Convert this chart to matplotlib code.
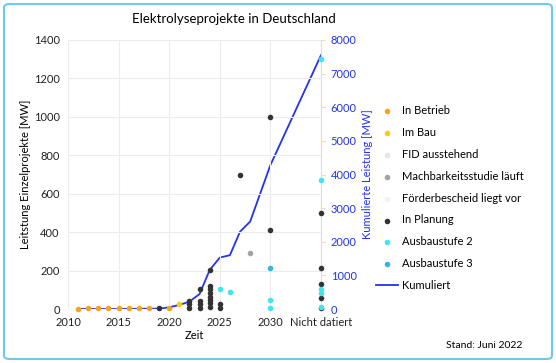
import numpy as np
import matplotlib
matplotlib.use('Agg')
import matplotlib.pyplot as plt
from matplotlib.patches import FancyBboxPatch
from matplotlib.lines import Line2D

plt.rcParams['font.family'] = ['Lato', 'DejaVu Sans']

# 2035 stands for "Nicht datiert"
betrieb_x = [2011, 2012, 2013, 2014, 2015, 2016, 2017, 2018, 2020]
betrieb_y = [2, 3, 6, 4, 3, 4, 5, 6, 4]
bau_x = [2021, 2022]
bau_y = [25, 40]
fid_x, fid_y = [], []
machbar_x = [2028]
machbar_y = [290]
foerder_x, foerder_y = [], []
planung_x = [2019, 2022, 2022, 2022, 2023, 2023, 2023, 2023,
             2024, 2024, 2024, 2024, 2024, 2024, 2024, 2024,
             2025, 2025, 2027, 2030, 2030,
             2035, 2035, 2035, 2035, 2035]
planung_y = [3, 7, 24, 42, 7, 24, 42, 102,
             12, 30, 47, 64, 82, 102, 121, 203,
             7, 24, 700, 411, 1000,
             5, 56, 130, 212, 501]
stufe2_x = [2025, 2026, 2030, 2030, 2035, 2035, 2035, 2035, 2035]
stufe2_y = [102, 90, 47, 7, 12, 85, 104, 672, 1300]
stufe3_x = [2030]
stufe3_y = [213]

kum_x = [2011, 2012, 2013, 2014, 2015, 2016, 2017, 2018, 2019, 2020,
         2021, 2022, 2023, 2024, 2025, 2026, 2027, 2028, 2029, 2030, 2035]
kum_y = [0, 0, 0, 0, 0, 5, 5, 10, 10, 50,
         120, 220, 445, 1160, 1530, 1600, 2300, 2600, 3440, 4280, 7550]

xticks = [2010, 2015, 2020, 2025, 2030, 2035]
xticklabels = ['2010', '2015', '2020', '2025', '2030', 'Nicht datiert']

blue = '#2233ee'

fig = plt.figure(figsize=(5.56, 3.63), dpi=100)
fig.patch.set_facecolor('white')

# rounded light blue frame
frame = FancyBboxPatch((4/556, 4/363), 548/556, 355/363,
                       boxstyle='round,pad=0,rounding_size=0.01',
                       transform=fig.transFigure, facecolor='none',
                       edgecolor='#6ccbec', linewidth=1.5)
fig.patches.append(frame)

ax = fig.add_axes([68/556, 54/363, 253/556, 269/363])
ax2 = ax.twinx()

ax.set_xlim(2010, 2035)
ax.set_ylim(0, 1400)
ax2.set_ylim(0, 8000)

ax.set_xticks(xticks)
ax.set_xticklabels(xticklabels)
ax.set_yticks(np.arange(0, 1401, 200))
ax2.set_yticks(np.arange(0, 8001, 1000))

ax.grid(True, color='#ececec', linewidth=0.8)
ax.set_axisbelow(True)
for a in (ax, ax2):
    for s in a.spines.values():
        s.set_visible(False)
ax2.spines['right'].set_visible(True)
ax2.spines['right'].set_color('#dddddd')

ax.tick_params(axis='both', length=0, labelsize=8, colors='#222222', pad=6)
ax2.tick_params(axis='y', length=3, color='#dddddd', labelsize=8,
                labelcolor=blue, pad=4)

ms = 16
kw = dict(s=ms, clip_on=False, zorder=3, linewidths=0)
ax.scatter(betrieb_x, betrieb_y, color='#f5a51c', label='In Betrieb', **kw)
ax.scatter(bau_x, bau_y, color='#ffcc00', label='Im Bau', **kw)
ax.scatter(fid_x, fid_y, color='#e6e6e6', label='FID ausstehend', **kw)
ax.scatter(machbar_x, machbar_y, color='#a3a3a3', label='Machbarkeitsstudie läuft', **kw)
ax.scatter(foerder_x, foerder_y, color='#f2f2f2', label='Förderbescheid liegt vor', **kw)
ax.scatter(planung_x, planung_y, color='#333333', label='In Planung', **kw)
ax.scatter(stufe2_x, stufe2_y, color='#3ee6f2', label='Ausbaustufe 2', **kw)
ax.scatter(stufe3_x, stufe3_y, color='#30b8e0', label='Ausbaustufe 3', **kw)

ax2.plot(kum_x, kum_y, color=blue, linewidth=1.3, zorder=2, label='Kumuliert')
ax.set_zorder(ax2.get_zorder() + 1)
ax.patch.set_visible(False)

ax.set_xlabel('Zeit', fontsize=8, labelpad=1)
ax.set_ylabel('Leitstung Einzelprojekte [MW]', fontsize=8, labelpad=2)
ax2.set_ylabel('Kumulierte Leistung [MW]', fontsize=8, color=blue, labelpad=4)
fig.text(234/556, 1 - 19/363, 'Elektrolyseprojekte in Deutschland',
         ha='center', va='center', fontsize=9.5)

handles, labels = ax.get_legend_handles_labels()
handles.append(Line2D([], [], color=blue, linewidth=1.3))
labels.append('Kumuliert')
fig.legend(handles, labels, loc='upper left', bbox_to_anchor=(376/556, 1 - 105/363),
           frameon=False, fontsize=8, labelspacing=0.98, handlelength=2.0,
           handletextpad=0.3, borderpad=0, borderaxespad=0, scatterpoints=1)

fig.text(522/556, 1 - 345/363, 'Stand: Juni 2022', ha='right', va='center', fontsize=7.5)

fig.savefig('out.png', dpi=100)
